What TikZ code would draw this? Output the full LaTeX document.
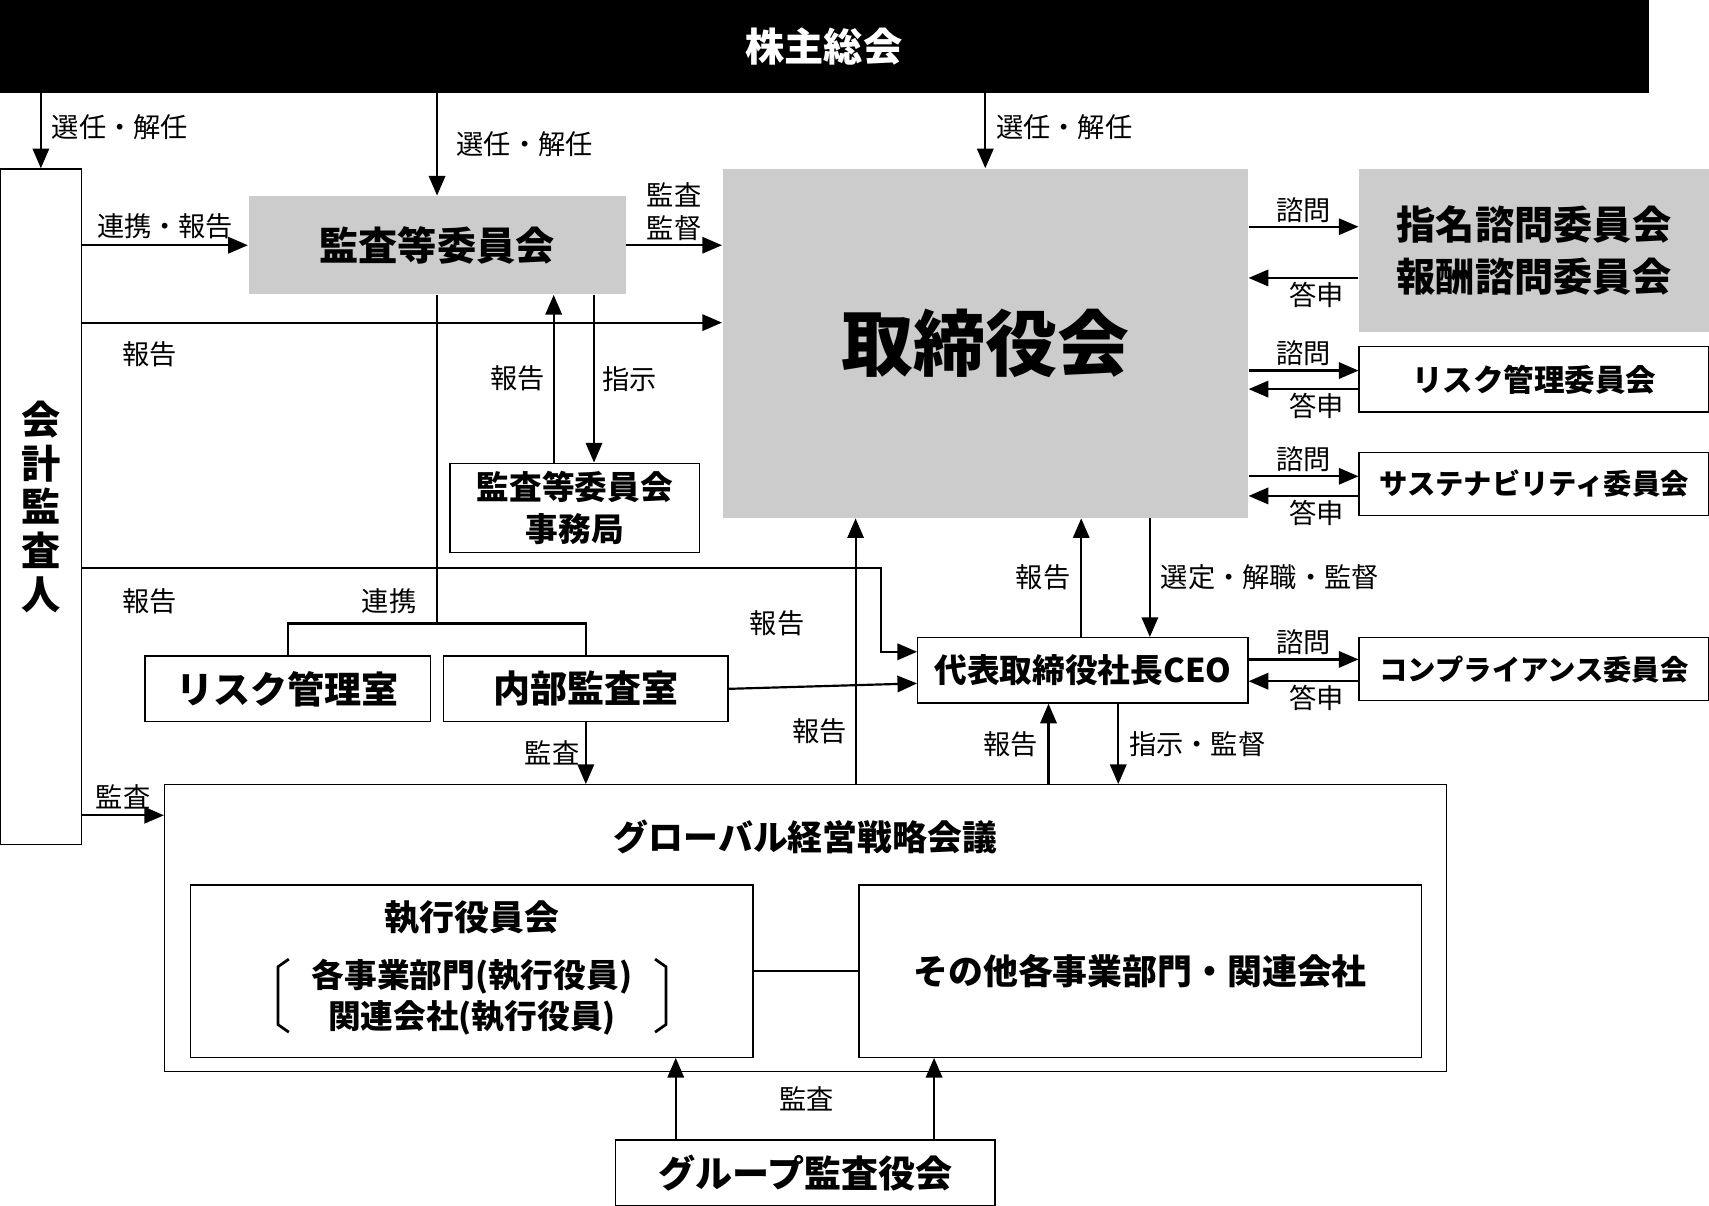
\documentclass[tikz,border=0pt]{standalone}
\usepackage{fontspec}
\setmainfont{Noto Sans CJK JP}
\usetikzlibrary{calc, positioning, arrows.meta}
\tikzset{
    box/.style={rectangle, draw=black, line width=1.2pt, fill=white, align=center, inner sep=0pt, font=\fontsize{30}{34}\selectfont\bfseries},
    grey/.style={box, draw=none, fill=black!20},
    arrow/.style={-{Triangle[length=18pt,width=15pt]}, line width=2pt},
    link/.style={line width=2pt},
    lbl/.style={font=\fontsize{25}{28}\selectfont, inner sep=1pt, align=center}
}
\begin{document}
\begin{tikzpicture}[x=1pt, y=-1pt]
        \useasboundingbox (0,0) rectangle (1568,1106);
        % Top
        \node[box, fill=black, text=white, minimum width=1512, minimum height=85, font=\fontsize{36}{40}\selectfont\bfseries] (Meeting) at (756,42.5) {株主総会};
        % Left
        \node[box, minimum width=75, minimum height=620, font=\fontsize{36}{40}\selectfont\bfseries] (Auditor) at (37.5,465) {会\\計\\監\\査\\人};
        % Boards
        \node[grey, minimum width=346, minimum height=90, font=\fontsize{36}{40}\selectfont\bfseries] (AuditCom) at (401,225) {監査等委員会};
        \node[grey, minimum width=482, minimum height=320, font=\fontsize{66}{74}\selectfont\bfseries] (Board) at (904,315) {取締役会};
        \node[grey, minimum width=321, minimum height=150, font=\fontsize{36}{48}\selectfont\bfseries] (Nomination) at (1407.5,230) {指名諮問委員会\\報酬諮問委員会};
        \node[box, minimum width=321, minimum height=60, font=\fontsize{28}{32}\selectfont\bfseries] (RiskCom) at (1407.5,348) {リスク管理委員会};
        \node[box, minimum width=321, minimum height=58, font=\fontsize{26}{30}\selectfont\bfseries] (SustCom) at (1407.5,444) {サステナビリティ委員会};
        \node[box, minimum width=229, minimum height=82, font=\fontsize{30}{38}\selectfont\bfseries] (Office) at (527.5,466) {監査等委員会\\事務局};
        \node[box, minimum width=303, minimum height=60] (CEO) at (993.5,615) {代表取締役社長CEO};
        \node[box, minimum width=321, minimum height=58, font=\fontsize{26}{30}\selectfont\bfseries] (CompCom) at (1407.5,614) {コンプライアンス委員会};
        \node[box, minimum width=262, minimum height=60, font=\fontsize{34}{38}\selectfont\bfseries] (RiskOffice) at (264,632) {リスク管理室};
        \node[box, minimum width=261, minimum height=60, font=\fontsize{34}{38}\selectfont\bfseries] (Internal) at (537.5,632) {内部監査室};
        % Global meeting
        \node[box, minimum width=1176, minimum height=263] (Global) at (739,851.5) {};
        \node[lbl, font=\fontsize{32}{36}\selectfont\bfseries] (GlobalTitle) at (739,768) {グローバル経営戦略会議};
        \node[box, minimum width=516, minimum height=158] (Exec) at (433,891) {};
        \node[lbl, font=\fontsize{32}{36}\selectfont\bfseries] (ExecTitle) at (433,842) {執行役員会};
        \node[lbl, font=\fontsize{30}{38}\selectfont\bfseries] (ExecSub) at (433,915) {各事業部門(執行役員)\\関連会社(執行役員)};
        \node[box, minimum width=516, minimum height=158, font=\fontsize{32}{36}\selectfont\bfseries] (Other) at (1046,891) {その他各事業部門・関連会社};
        \node[box, minimum width=348, minimum height=60, font=\fontsize{34}{38}\selectfont\bfseries] (Group) at (739,1076) {グループ監査役会};
        % Brackets
        \draw[line width=2.5pt] (265,880) -- (255,887) -- (255,940) -- (265,947);
        \draw[line width=2.5pt] (601,880) -- (611,887) -- (611,940) -- (601,947);
        \draw[link] (Exec.east) -- (Other.west);
        % From shareholders
        \draw[arrow] (Meeting.south -| Auditor.north) -- node[lbl, right=8pt, pos=0.45] {選任・解任} (Auditor.north);
        \draw[arrow] (Meeting.south -| AuditCom.north) -- node[lbl, right=16pt, pos=0.5] {選任・解任} (AuditCom.north);
        \draw[arrow] (Meeting.south -| Board.north) -- node[lbl, right=8pt, pos=0.45] {選任・解任} (Board.north);
        % Auditor
        \draw[arrow] (Auditor.east |- 0,225) -- node[lbl, above=4pt] {連携・報告} (AuditCom.west);
        \draw[arrow] (AuditCom.east) -- node[lbl, above=2pt, font=\fontsize{25}{30}\selectfont] {監査\\監督} (Board.west |- 0,225);
        \draw[arrow] (Auditor.east |- 0,296) -- (Board.west |- 0,296);
        \node[lbl] (L1) at (137,325) {報告};
        \draw[arrow] (Office.north -| 508,0) -- node[lbl, left=6pt] {報告} (AuditCom.south -| 508,0);
        \draw[arrow] (AuditCom.south -| 545,0) -- node[lbl, right=6pt] {指示} (Office.north -| 545,0);
        \draw[link] (AuditCom.south -| 401,0) -- (401,572);
        \draw[link] (RiskOffice.north) -- (RiskOffice.north |- 0,572) -- (Internal.north |- 0,572) -- (Internal.north);
        \node[lbl] (L2) at (357,552) {連携};
        \draw[arrow] (Auditor.east |- 0,521) -- (808,521) -- (808,598) -- (CEO.west |- 0,598);
        \node[lbl] (L3) at (137,552) {報告};
        \draw[arrow] (Internal.east) -- (CEO.west |- 0,627);
        \node[lbl] (L4) at (713,572) {報告};
        \draw[arrow] (Internal.south) -- node[lbl, left=4pt] {監査} (Global.north -| Internal.south);
        \draw[arrow] (Auditor.east |- 0,748) -- node[lbl, above=4pt] {監査} (Global.west |- 0,748);
        % Board and CEO
        \draw[arrow] (Global.north -| 785,0) -- node[lbl, left=6pt, pos=0.2] {報告} (Board.south -| 785,0);
        \draw[arrow] (CEO.north -| 992,0) -- node[lbl, left=8pt] {報告} (Board.south -| 992,0);
        \draw[arrow] (Board.south -| 1055,0) -- node[lbl, right=8pt] {選定・解職・監督} (CEO.north -| 1055,0);
        \draw[arrow] (Global.north -| 962,0) -- node[lbl, left=8pt] {報告} (CEO.south -| 962,0);
        \draw[arrow] (CEO.south -| 1026,0) -- node[lbl, right=8pt] {指示・監督} (Global.north -| 1026,0);
        % Committees
        \foreach \com/\ya/\yb in {Nomination/208/255, RiskCom/340/357, SustCom/437/455, CompCom/605/625} {
            \draw[arrow] (Board.east |- 0,\ya) -- node[lbl, above=2pt] {諮問} (\com.west |- 0,\ya);
            \draw[arrow] (\com.west |- 0,\yb) -- node[lbl, below=2pt, xshift=12pt] {答申} (Board.east |- 0,\yb);
        }
        % Group audit
        \draw[arrow] (Group.north -| 620,0) -- (Exec.south -| 620,0);
        \draw[arrow] (Group.north -| 857,0) -- (Other.south -| 857,0);
        \node[lbl] (L5) at (740,1008) {監査};
\end{tikzpicture}
\end{document}
